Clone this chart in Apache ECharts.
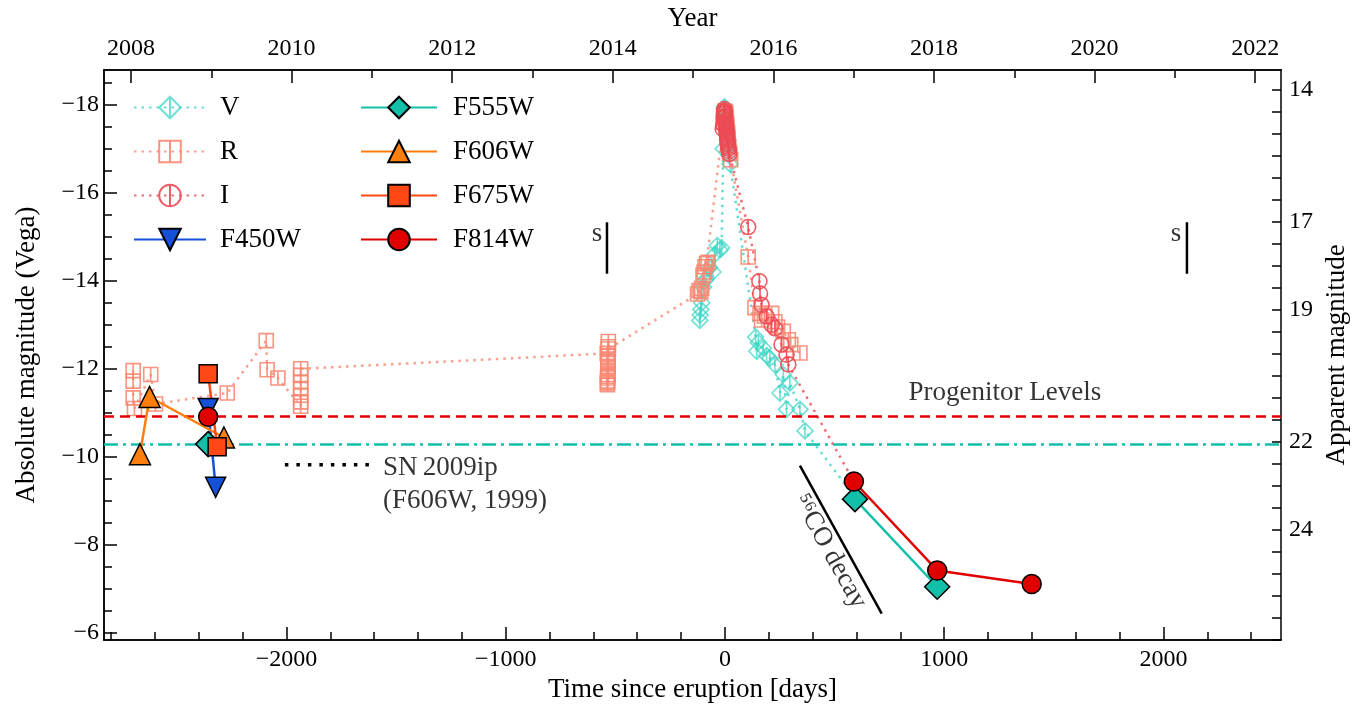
<!DOCTYPE html>
<html>
<head>
<meta charset="utf-8">
<title>Light curve since eruption</title>
<script src="https://cdn.jsdelivr.net/npm/echarts@6/dist/echarts.min.js"></script>
<style>
  html, body { margin: 0; padding: 0; background: #fff; }
  #chart { width: 1360px; height: 709px; }
</style>
</head>
<body>
<div id="chart"></div>
<script>
// ground based photometry (days since eruption, absolute mag)
const vDays = [-115, -113, -110, -106, -98, -92, -84, -70, -55, -46, -35, -23, -15,
  -8, -4, -2, 0, 2, 4, 6, 8, 10, 12, 14, 16, 19, 23,
  140, 145, 152, 175, 190, 205, 228, 251, 266, 281, 296, 342, 365, 593]
const vMags = [-13.10, -13.22, -13.35, -13.5, -13.85, -14.0, -14.05, -14.3, -14.2, -14.6, -14.8, -14.7, -14.75,
  -17.0, -17.9, -17.95, -17.85, -17.75, -17.65, -17.5, -17.4, -17.3, -17.2, -17.1, -17.0, -16.85, -16.65,
  -12.72, -12.4, -12.6, -12.47, -12.3, -12.24, -12.09, -11.45, -11.87, -11.08, -11.68, -11.08, -10.59, -9.07]

const rDays = [-2699, -2699, -2699, -2693, -2619, -2597, -2270, -2092, -2088, -2039,
  -1935, -1935, -1935, -1935, -1935, -1935, -1935,
  -537, -536, -536, -535, -535, -535, -534, -534, -534, -534, -533, -533, -533, -533, -532, -532, -532,
  -125, -118, -110, -106, -100, -95, -91, -84, -77,
  -7, -5, -2, 0, 2, 3, 5, 6, 8, 9, 11, 12, 14, 15, 18, 22, 26,
  106, 137, 160, 167, 180, 213, 228, 240, 266, 289, 300, 342]
const rMags = [-11.96, -11.72, -11.34, -11.10, -11.87, -11.20, -11.45, -12.64, -11.98, -11.79,
  -11.15, -11.25, -11.4, -11.55, -11.7, -11.85, -12.0,
  -12.35, -11.64, -11.68, -11.72, -11.79, -11.83, -11.87, -11.94, -12.0, -12.06, -12.12, -12.17, -12.22, -12.28, -12.5, -12.62, -12.45,
  -13.7, -13.78, -13.75, -13.83, -14.13, -14.2, -14.32, -14.39, -14.42,
  -17.6, -17.7, -17.8, -17.85, -17.82, -17.8, -17.72, -17.65, -17.55, -17.5, -17.4, -17.35, -17.25, -17.2, -17.05, -16.9, -16.75,
  -14.54, -13.39, -13.26, -13.11, -13.2, -13.26, -13.07, -12.95, -12.85, -12.66, -12.55, -12.36]

const iDays = [-10, -8, -6, -5, -4, -3, -2, -1, 0, 1, 2, 3, 4, 5, 6, 7, 8, 9, 10, 11, 12, 13, 14, 16, 18, 20,
  106, 157, 160, 167, 190, 213, 228, 258, 281, 289, 588]
const iMags = [-17.45, -17.55, -17.7, -17.8, -17.85, -17.9, -17.85, -17.8, -17.75, -17.72, -17.65, -17.6, -17.55, -17.5, -17.45, -17.4, -17.35, -17.3, -17.25, -17.2, -17.15, -17.1, -17.05, -17.0, -16.95, -16.88,
  -15.22, -13.99, -13.71, -13.45, -13.19, -13.0, -12.92, -12.55, -12.32, -12.1, -9.44]

// HST photometry
const f450wDays = [-2357, -2323]
const f450wMags = [-11.10, -9.31]
const f555wDays = [-2357, 593, 968]
const f555wMags = [-10.29, -9.04, -7.05]
const f606wDays = [-2668, -2624, -2285]
const f606wMags = [-10.06, -11.36, -10.44]
const f675wDays = [-2357, -2316]
const f675wMags = [-11.89, -10.23]
const f814wDays = [-2357, 588, 968, 1399]
const f814wMags = [-10.91, -9.44, -7.42, -7.11]

// progenitor levels, SN 2009ip reference, s marks, 56Co decay slope
const progenitorF814W = -10.93
const progenitorF555W = -10.29
const sn09ipDays = [-2007, -1610]
const sn09ipMags = [-9.82, -9.82]
const sMarkDays = [-538, 2107]
const sMarkMags = [-15.33, -14.16]
const coDecayDays = [342, 715]
const coDecayMags = [-9.80, -6.44]

// axes
const dayMin = -2832, dayMax = 2536
const yearMin = 2007.664, yearMax = 2022.321
const absMin = -18.79, absMax = -5.84
const distanceModulus = 32.34
const dayTicks = [-2000, -1000, 0, 1000, 2000]
const yearTicks = [2008, 2010, 2012, 2014, 2016, 2018, 2020, 2022]
const absTicks = [-18, -16, -14, -12, -10, -8, -6]
const appTickLabels = [14, 17, 19, 22, 24]

const dayMinor = [], yearMinor = [], absMinor = [], appMinor = []
for (let d = -2800; d <= 2400; d += 200) dayMinor.push(d)
for (let y = 2008; y <= 2022; y++) yearMinor.push(y)
for (let m = -18.5; m <= -6; m += 0.5) absMinor.push(m)
for (let m = 14; m <= 26.5; m += 0.5) appMinor.push(m)

const serif = 'Liberation Serif'
const minus = v => (v < 0 ? '\u2212' + Math.abs(v) : String(v))
const pts = (days, mags) => days.map((d, i) => [d, mags[i]])

const diamondBar = 'path://M0,-10L10,0L0,10L-10,0Z M0,-10L0,10'
const squareBar = 'path://M-10,-10H10V10H-10Z M0,-10V10'
const circleBar = 'path://M-10,0A10,10,0,1,1,10,0A10,10,0,1,1,-10,0Z M0,-10V10'

const cV = '#3fd6c6', cR = '#f98772', cI = '#ec4a55'
const c450 = '#1450d8', c555 = '#12bfa9', c606 = '#ff7f0e', c675 = '#ff4814', c814 = '#e00000'

function ground(name, data, symbol, size, color, alpha) {
  return {
    name, type: 'line', data, symbol, symbolSize: size, z: 2,
    lineStyle: { color, width: 2.5, type: [2.5, 5], opacity: 0.8 },
    itemStyle: { color: 'rgba(0,0,0,0)', borderColor: color, borderWidth: 1.6, opacity: alpha },
    emphasis: { disabled: true }
  }
}
function hst(name, data, symbol, size, color, extra) {
  return Object.assign({
    name, type: 'line', data, symbol, symbolSize: size, z: 5,
    lineStyle: { color, width: 2.5 },
    itemStyle: { color, borderColor: '#000', borderWidth: 1.5 },
    emphasis: { disabled: true }
  }, extra || {})
}
function guide(data, type, width) {
  return {
    type: 'line', data, symbol: 'none', z: 3, silent: true,
    lineStyle: { color: '#000', width, type }
  }
}

const notes = [
  { text: 'Progenitor Levels', day: 1277, mag: -11.45, align: 'center', rotate: 0 },
  { text: 'SN\u20092009ip', day: -1560, mag: -9.75, align: 'left', rotate: 0 },
  { text: '(F606W, 1999)', day: -1560, mag: -9.0, align: 'left', rotate: 0 },
  { text: 's', day: -584, mag: -15.06, align: 'center', rotate: 0 },
  { text: 's', day: 2057, mag: -15.06, align: 'center', rotate: 0 },
  { text: '\u2075\u2076CO decay', day: 478, mag: -7.85, align: 'center', rotate: -61 }
]

const axisBase = {
  type: 'value',
  axisLine: { show: true, onZero: false, lineStyle: { color: '#000', width: 1.5 } },
  splitLine: { show: false },
  nameTextStyle: { fontFamily: serif, fontSize: 27, color: '#000' }
}
const tickStyle = { color: '#000', width: 1.5 }
const labelBase = { fontFamily: serif, fontSize: 24, color: '#000' }

const chart = echarts.init(document.getElementById('chart'))
chart.setOption({
  animation: false,
  backgroundColor: '#fff',
  grid: { left: 104, right: 79, top: 67, bottom: 69, containLabel: false },
  legend: [
    {
      data: ['V', 'R', 'I', 'F450W'], orient: 'vertical', left: 128, top: 89,
      itemWidth: 72, itemHeight: 27, itemGap: 17, selectedMode: false,
      textStyle: { fontFamily: serif, fontSize: 27, color: '#000', padding: [0, 0, 0, 9] }
    },
    {
      data: ['F555W', 'F606W', 'F675W', 'F814W'], orient: 'vertical', left: 355, top: 89,
      itemWidth: 76, itemHeight: 27, itemGap: 17, selectedMode: false,
      textStyle: { fontFamily: serif, fontSize: 27, color: '#000', padding: [0, 0, 0, 11] }
    }
  ],
  xAxis: [
    Object.assign({}, axisBase, {
      position: 'bottom', min: dayMin, max: dayMax,
      name: 'Time since eruption [days]', nameLocation: 'middle', nameGap: 36,
      axisTick: { inside: true, length: 13, customValues: dayTicks, lineStyle: tickStyle },
      axisLabel: Object.assign({ margin: 8, customValues: dayTicks, formatter: minus }, labelBase)
    }),
    Object.assign({}, axisBase, {
      position: 'bottom', min: dayMin, max: dayMax,
      axisTick: { inside: true, length: 8, customValues: dayMinor, lineStyle: tickStyle },
      axisLabel: { show: false }
    }),
    Object.assign({}, axisBase, {
      position: 'top', min: yearMin, max: yearMax,
      name: 'Year', nameLocation: 'middle', nameGap: 37,
      axisTick: { inside: true, length: 13, customValues: yearTicks, lineStyle: tickStyle },
      axisLabel: Object.assign({ margin: 9, customValues: yearTicks, formatter: v => String(v) }, labelBase)
    }),
    Object.assign({}, axisBase, {
      position: 'top', min: yearMin, max: yearMax,
      axisTick: { inside: true, length: 8, customValues: yearMinor, lineStyle: tickStyle },
      axisLabel: { show: false }
    })
  ],
  yAxis: [
    Object.assign({}, axisBase, {
      position: 'left', inverse: true, min: absMin, max: absMax,
      name: 'Absolute magnitude (Vega)', nameLocation: 'middle', nameGap: 64, nameRotate: 90,
      axisTick: { inside: true, length: 13, customValues: absTicks, lineStyle: tickStyle },
      axisLabel: Object.assign({ margin: 5, customValues: absTicks, formatter: minus }, labelBase)
    }),
    Object.assign({}, axisBase, {
      position: 'left', inverse: true, min: absMin, max: absMax,
      axisTick: { inside: true, length: 8, customValues: absMinor, lineStyle: tickStyle },
      axisLabel: { show: false }
    }),
    Object.assign({}, axisBase, {
      position: 'right', inverse: true, min: absMin + distanceModulus, max: absMax + distanceModulus,
      name: 'Apparent magnitude', nameLocation: 'middle', nameGap: 42, nameRotate: 90,
      axisTick: { inside: true, length: 9, customValues: appMinor, lineStyle: tickStyle },
      axisLabel: Object.assign({ margin: 8, customValues: appTickLabels, formatter: v => String(v) }, labelBase)
    })
  ],
  series: [
    ground('V', pts(vDays, vMags), diamondBar, 16, cV, 0.75),
    ground('R', pts(rDays, rMags), squareBar, 14, cR, 0.9),
    ground('I', pts(iDays, iMags), circleBar, 15, cI, 0.9),
    hst('F450W', pts(f450wDays, f450wMags), 'triangle', 20, c450, { symbolRotate: 180 }),
    hst('F555W', pts(f555wDays.slice(0, 1), f555wMags.slice(0, 1)), 'diamond', 25, c555),
    hst('F555W', pts(f555wDays.slice(1), f555wMags.slice(1)), 'diamond', 25, c555, {
      markLine: {
        silent: true, symbol: 'none', label: { show: false },
        lineStyle: { color: c555, width: 2.5, type: [14, 5, 3, 5] },
        data: [{ yAxis: progenitorF555W }]
      }
    }),
    hst('F606W', pts(f606wDays, f606wMags), 'triangle', 21, c606),
    hst('F675W', pts(f675wDays, f675wMags), 'rect', 18, c675),
    hst('F814W', pts(f814wDays.slice(0, 1), f814wMags.slice(0, 1)), 'circle', 19, c814),
    hst('F814W', pts(f814wDays.slice(1), f814wMags.slice(1)), 'circle', 19, c814, {
      markLine: {
        silent: true, symbol: 'none', label: { show: false },
        lineStyle: { color: c814, width: 2.5, type: [10, 6] },
        data: [{ yAxis: progenitorF814W }]
      }
    }),
    guide(pts(sn09ipDays, sn09ipMags), [3.5, 8], 3.5),
    guide(pts([sMarkDays[0], sMarkDays[0]], sMarkMags), 'solid', 2.5),
    guide(pts([sMarkDays[1], sMarkDays[1]], sMarkMags), 'solid', 2.5),
    guide(pts(coDecayDays, coDecayMags), 'solid', 2.5),
    {
      type: 'scatter', symbolSize: 0, silent: true, z: 6,
      data: notes.map(n => ({
        value: [n.day, n.mag],
        label: {
          show: true, position: 'inside', formatter: n.text, rotate: n.rotate,
          align: n.align, verticalAlign: 'middle',
          fontFamily: serif, fontSize: 27, color: '#000'
        }
      }))
    }
  ]
})
</script>
</body>
</html>
